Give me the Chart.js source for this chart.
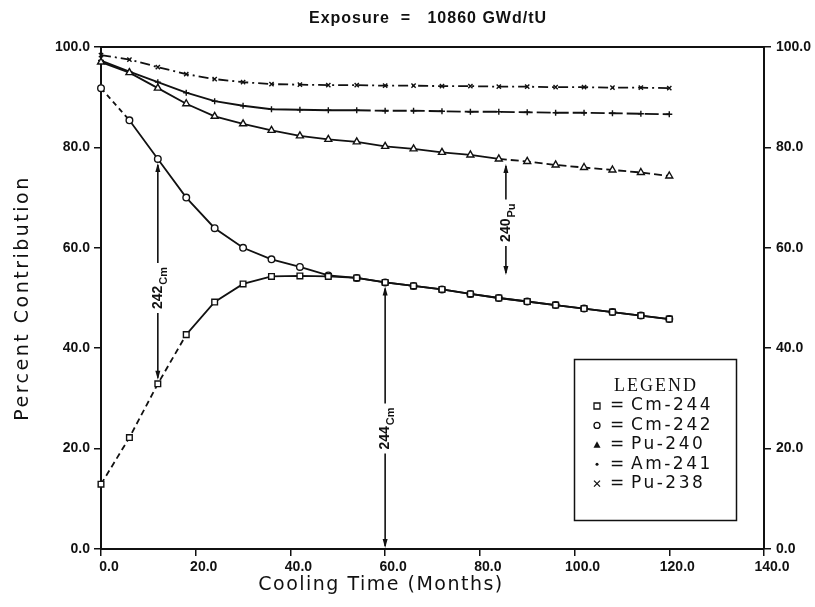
<!DOCTYPE html>
<html lang="en">
<head>
<meta charset="utf-8">
<title>Percent Contribution vs Cooling Time</title>
<style>
  html, body { margin: 0; background: #fff; }
  canvas { display: block; }
</style>
</head>
<body>
<canvas id="myChart" width="815" height="607"></canvas>

<script src="https://cdn.jsdelivr.net/npm/chart.js"></script>
<script>
// cooling time in months, one point every 6 months
const months = [0, 6, 12, 18, 24, 30, 36, 42, 48, 54, 60, 66, 72, 78, 84, 90, 96, 102, 108, 114, 120];

// percent contribution
const cm244 = [12.9, 22.2, 32.9, 42.7, 49.2, 52.8, 54.3, 54.4, 54.3, 54.0, 53.1, 52.4, 51.7, 50.8, 50.0, 49.3, 48.6, 47.9, 47.2, 46.5, 45.8];
const cm242 = [91.8, 85.4, 77.7, 70.0, 63.9, 60.0, 57.7, 56.2, 54.5, 54.0, 53.1, 52.4, 51.7, 50.8, 50.0, 49.3, 48.6, 47.9, 47.2, 46.5, 45.8];
const pu240 = [97.0, 94.9, 91.8, 88.7, 86.2, 84.7, 83.4, 82.3, 81.6, 81.1, 80.2, 79.7, 79.0, 78.5, 77.7, 77.2, 76.5, 76.0, 75.5, 75.0, 74.3];
const am241 = [97.3, 95.1, 93.0, 90.9, 89.2, 88.3, 87.6, 87.5, 87.4, 87.4, 87.3, 87.3, 87.2, 87.1, 87.1, 87.0, 86.9, 86.9, 86.8, 86.7, 86.6];
const pu238 = [98.4, 97.5, 96.0, 94.6, 93.6, 93.0, 92.6, 92.5, 92.4, 92.4, 92.3, 92.3, 92.2, 92.2, 92.1, 92.1, 92.0, 92.0, 91.9, 91.9, 91.8];

const xTickLabels = ['0.0', '20.0', '40.0', '60.0', '80.0', '100.0', '120.0', '140.0'];
const yTickLabels = ['0.0', '20.0', '40.0', '60.0', '80.0', '100.0'];

// labelled arrows between curves (x in months, ends and label in percent)
const arrows = [
    {x: 12, top: cm242[2], bottom: cm244[2], at: 52, text: '242', sub: 'Cm'},
    {x: 60, top: cm244[10], bottom: 0, at: 24, text: '244', sub: 'Cm'},
    {x: 85.5, top: 77.5, bottom: 53.8, at: 65, text: '240', sub: 'Pu'}
];

const ink = '#111';

function series(label, values, style, radius, dash) {
    return {
        label: label,
        data: months.map((m, i) => ({x: m, y: values[i]})),
        borderColor: ink,
        borderWidth: 1.8,
        backgroundColor: '#fff',
        pointStyle: style,
        pointRadius: radius,
        pointBorderWidth: 1.4,
        pointBorderColor: ink,
        pointBackgroundColor: '#fff',
        segment: {borderDash: dash},
        tension: 0,
        clip: false
    };
}

const datasets = [
    series('Cm-244', cm244, 'rect', 4, c => c.p0DataIndex < 3 ? [6, 4] : undefined),
    series('Cm-242', cm242, 'circle', 3.3, c => c.p0DataIndex < 1 ? [5, 4] : undefined),
    series('Pu-240', pu240, 'triangle', 4, c => c.p0DataIndex >= 14 ? [8, 4] : undefined),
    series('Am-241', am241, 'cross', 3, c => c.p0DataIndex >= 9 ? [14, 4] : undefined),
    series('Pu-238', pu238, 'crossRot', 3, c => [10, 4, 2, 4])
];

function arrowHead(ctx, x, y, dir) {
    ctx.beginPath();
    ctx.moveTo(x, y);
    ctx.lineTo(x - 2.5, y - dir * 9);
    ctx.lineTo(x + 2.5, y - dir * 9);
    ctx.closePath();
    ctx.fill();
}

function legendMark(ctx, style, x, y) {
    ctx.beginPath();
    if (style === 'rect') {
        ctx.rect(x - 3, y - 3, 6, 6);
        ctx.stroke();
    } else if (style === 'circle') {
        ctx.arc(x, y, 3, 0, Math.PI * 2);
        ctx.stroke();
    } else if (style === 'triangle') {
        ctx.moveTo(x, y - 3.5);
        ctx.lineTo(x + 3.5, y + 3);
        ctx.lineTo(x - 3.5, y + 3);
        ctx.closePath();
        ctx.fill();
    } else if (style === 'cross') {
        ctx.arc(x, y, 1.5, 0, Math.PI * 2);
        ctx.fill();
    } else {
        ctx.moveTo(x - 3, y - 3); ctx.lineTo(x + 3, y + 3);
        ctx.moveTo(x + 3, y - 3); ctx.lineTo(x - 3, y + 3);
        ctx.stroke();
    }
}

const decorations = {
    id: 'decorations',
    afterDatasetsDraw(chart) {
        const ctx = chart.ctx;
        const xs = chart.scales.x, ys = chart.scales.y;
        ctx.save();
        ctx.strokeStyle = ink;
        ctx.fillStyle = ink;
        ctx.lineWidth = 1.6;
        arrows.forEach(a => {
            const px = xs.getPixelForValue(a.x);
            const yTop = ys.getPixelForValue(a.top) + 4;
            const yBot = ys.getPixelForValue(a.bottom) - (a.bottom > 0 ? 4 : 1);
            const yMid = ys.getPixelForValue(a.at);
            ctx.font = 'bold 14px "Liberation Sans"';
            const w1 = ctx.measureText(a.text).width;
            ctx.font = 'bold 11px "Liberation Sans"';
            const w2 = ctx.measureText(a.sub).width;
            const w = w1 + w2 + 1;
            ctx.beginPath();
            ctx.moveTo(px, yTop + 2);
            ctx.lineTo(px, yMid - w / 2 - 4);
            ctx.moveTo(px, yMid + w / 2 + 4);
            ctx.lineTo(px, yBot - 2);
            ctx.stroke();
            arrowHead(ctx, px, yTop, -1);
            arrowHead(ctx, px, yBot, 1);
            ctx.save();
            ctx.translate(px, yMid);
            ctx.rotate(-Math.PI / 2);
            ctx.textAlign = 'left';
            ctx.textBaseline = 'middle';
            ctx.font = 'bold 14px "Liberation Sans"';
            ctx.fillText(a.text, -w / 2, 0);
            ctx.font = 'bold 11px "Liberation Sans"';
            ctx.fillText(a.sub, -w / 2 + w1 + 1, 6);
            ctx.restore();
        });
        ctx.restore();
    },
    afterDraw(chart) {
        const ctx = chart.ctx;
        const area = chart.chartArea;
        ctx.save();
        ctx.strokeStyle = ink;
        ctx.fillStyle = ink;

        // top frame line
        ctx.lineWidth = 2;
        ctx.beginPath();
        ctx.moveTo(area.left - 1, area.top);
        ctx.lineTo(area.right + 1, area.top);
        ctx.stroke();

        // heading
        ctx.textAlign = 'center';
        ctx.textBaseline = 'middle';
        ctx.font = 'bold 16px "Liberation Sans"';
        ctx.letterSpacing = '1px';
        ctx.fillText('Exposure  =   10860 GWd/tU', 428, 19);

        // axis titles
        ctx.font = '19px "DejaVu Sans"';
        ctx.letterSpacing = '1.5px';
        ctx.fillText('Cooling Time (Months)', 381, 585);
        ctx.save();
        ctx.translate(23, 298);
        ctx.rotate(-Math.PI / 2);
        ctx.letterSpacing = '2.5px';
        ctx.fillText('Percent Contribution', 0, 0);
        ctx.restore();

        // legend box
        ctx.lineWidth = 1.5;
        ctx.strokeRect(574.5, 359.5, 162, 161);
        ctx.font = '18px "Liberation Serif"';
        ctx.letterSpacing = '2px';
        ctx.fillText('LEGEND', 656, 386);
        ctx.textAlign = 'left';
        chart.data.datasets.forEach((ds, i) => {
            const y = 406 + i * 19.4;
            ctx.lineWidth = 1.3;
            legendMark(ctx, ds.pointStyle, 597, y);
            ctx.font = '17px "DejaVu Sans"';
            ctx.letterSpacing = '0px';
            ctx.fillText('=', 610, y);
            ctx.letterSpacing = '2.5px';
            ctx.fillText(ds.label, 631, y);
        });
        ctx.restore();
    }
};

const tickFont = {family: 'Liberation Sans', size: 14, weight: 'bold'};
const axisGrid = {drawOnChartArea: false, drawTicks: true, tickLength: 7, color: ink, lineWidth: 1.5};
const axisBorder = {display: true, color: ink, width: 2};

new Chart(document.getElementById('myChart'), {
    type: 'line',
    data: {datasets: datasets},
    options: {
        responsive: false,
        animation: false,
        layout: {padding: {top: 47}},
        plugins: {legend: {display: false}, tooltip: {enabled: false}},
        scales: {
            x: {
                type: 'linear',
                min: 0,
                max: 140,
                grid: axisGrid,
                border: axisBorder,
                ticks: {stepSize: 20, color: ink, font: tickFont, padding: 3, labelOffset: 8, maxRotation: 0,
                    callback: (v, i) => xTickLabels[i]},
                afterFit: s => { s.height = 58; }
            },
            y: {
                min: 0,
                max: 100,
                grid: axisGrid,
                border: axisBorder,
                ticks: {stepSize: 20, color: ink, font: tickFont, padding: 4,
                    callback: (v, i) => yTickLabels[i]},
                afterFit: s => { s.width = 101; }
            },
            y2: {
                position: 'right',
                min: 0,
                max: 100,
                grid: axisGrid,
                border: axisBorder,
                ticks: {stepSize: 20, color: ink, font: tickFont, padding: 5,
                    callback: (v, i) => yTickLabels[i]},
                afterFit: s => { s.width = 51; }
            }
        }
    },
    plugins: [decorations]
});
</script>
</body>
</html>
